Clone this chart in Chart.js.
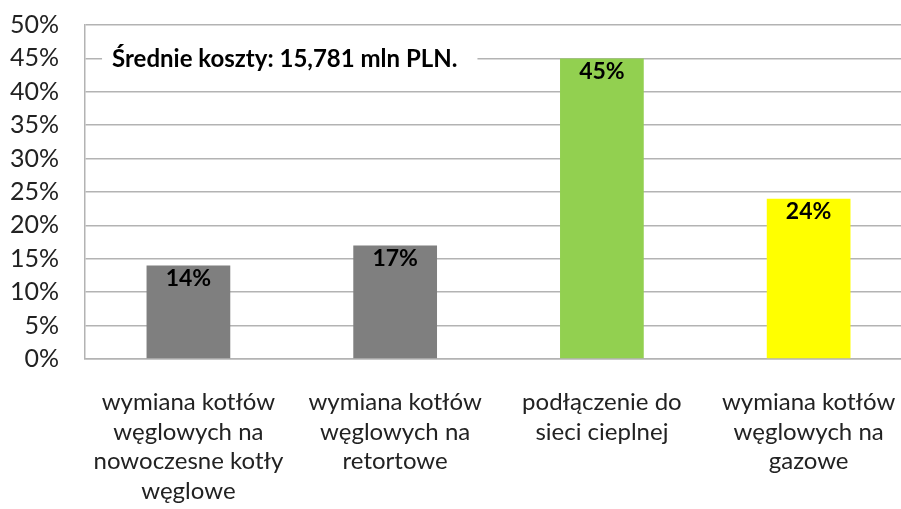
<!DOCTYPE html>
<html>
<head>
<meta charset="utf-8">
<script src="https://cdn.jsdelivr.net/npm/chart.js@4.4.1/dist/chart.umd.min.js"></script>
<style>
  html, body { margin: 0; padding: 0; background: #fff; overflow: hidden; }
  #wrap { width: 912px; height: 509px; }
</style>
</head>
<body>
<div id="wrap"><canvas id="chart"></canvas></div>
<script>
// data
var categories = [
	["wymiana kotłów", "węglowych na", "nowoczesne kotły", "węglowe"],
	["wymiana kotłów", "węglowych na", "retortowe"],
	["podłączenie do", "sieci cieplnej"],
	["wymiana kotłów", "węglowych na", "gazowe"]
];
var shares = [14, 17, 45, 24];
var barColors = ["#7f7f7f", "#7f7f7f", "#92d050", "#ffff00"];
var noteText = "Średnie koszty: 15,781 mln PLN.";
var noteAt = 45;

// labels inside bars + the note on the 45% line
var labelsPlugin = {
	id: 'barLabels',
	afterDatasetsDraw: function (chart) {
		var ctx = chart.ctx;
		var meta = chart.getDatasetMeta(0);
		ctx.save();
		ctx.font = "bold 23px Lato";
		ctx.fillStyle = "#000";
		ctx.textAlign = "center";
		ctx.textBaseline = "middle";
		meta.data.forEach(function (bar, i) {
			ctx.fillText(shares[i] + "%", bar.x, bar.y + 13);
		});

		var area = chart.chartArea;
		var y = chart.scales.y.getPixelForValue(noteAt);
		ctx.font = "bold 24px Lato";
		var w = ctx.measureText(noteText).width;
		ctx.fillStyle = "#fff";
		ctx.fillRect(area.left + 17, y - 16, w + 30, 32);
		ctx.fillStyle = "#000";
		ctx.textAlign = "left";
		ctx.fillText(noteText, area.left + 27, y + 1);
		ctx.restore();
	}
};

new Chart(document.getElementById('chart'), {
	type: 'bar',
	data: {
		labels: categories,
		datasets: [{
			data: shares,
			backgroundColor: barColors,
			barPercentage: 0.5,
			categoryPercentage: 0.81
		}]
	},
	options: {
		responsive: true,
		maintainAspectRatio: false,
		animation: false,
		layout: { padding: { top: 25, left: 10, right: 0, bottom: -1 } },
		plugins: {
			legend: { display: false },
			tooltip: { enabled: false }
		},
		scales: {
			y: {
				min: 0,
				max: 50,
				ticks: {
					stepSize: 5,
					padding: 0,
					autoSkip: false,
					color: "#222",
					font: { family: "Lato", size: 25 },
					callback: function (v) { return v + "%"; }
				},
				grid: { color: "#b3b3b3", lineWidth: 1.5, drawTicks: true, tickLength: 26, tickColor: "rgba(0,0,0,0)" },
				border: { color: "#b3b3b3", width: 1.5 }
			},
			x: {
				ticks: {
					padding: 4,
					maxRotation: 0,
					autoSkip: false,
					color: "#222",
					font: { family: "Lato", size: 24, lineHeight: 1.23 }
				},
				grid: { display: false, drawTicks: true, tickLength: 25 },
				border: { color: "#b3b3b3", width: 1.5 }
			}
		}
	},
	plugins: [labelsPlugin]
});
</script>
</body>
</html>
